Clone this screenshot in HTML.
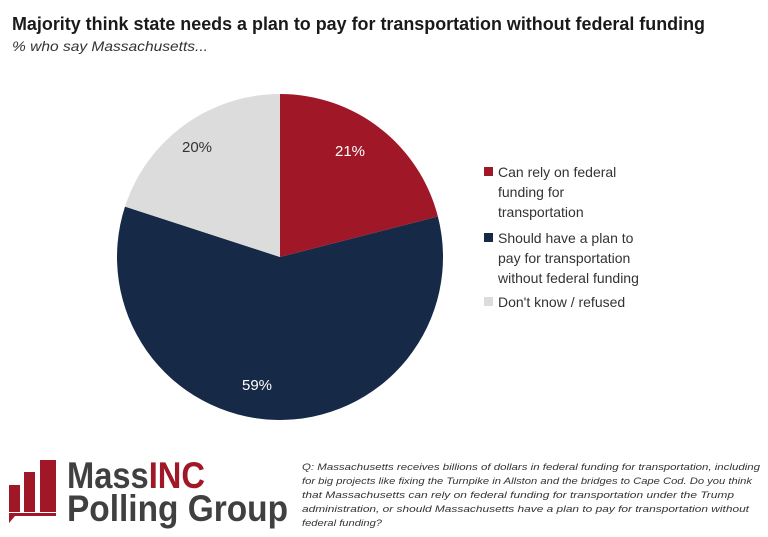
<!DOCTYPE html>
<html><head><style>body{margin:0;background:#fff}svg{display:block}</style></head><body>
<svg width="768" height="537" viewBox="0 0 768 537" xmlns="http://www.w3.org/2000/svg" font-family="Liberation Sans, sans-serif">
<rect width="768" height="537" fill="#fff"/>
<text x="12" y="30" font-size="18" font-weight="bold" fill="#1a1a1a" textLength="693" lengthAdjust="spacingAndGlyphs">Majority think state needs a plan to pay for transportation without federal funding</text>
<text x="12" y="51" font-size="14" font-style="italic" fill="#333" textLength="196" lengthAdjust="spacingAndGlyphs">% who say Massachusetts...</text>
<path d="M280,257 L280,94 A163,163 0 0 1 437.9,216.5 Z" fill="#a01828"/>
<path d="M280,257 L437.9,216.5 A163,163 0 1 1 125,206.6 Z" fill="#162947"/>
<path d="M280,257 L125,206.6 A163,163 0 0 1 280,94 Z" fill="#dcdcdc"/>
<text x="350" y="156" font-size="15" fill="#fff" text-anchor="middle">21%</text>
<text x="197" y="152" font-size="15" fill="#333" text-anchor="middle">20%</text>
<text x="257" y="390" font-size="15" fill="#fff" text-anchor="middle">59%</text>
<g font-size="14" fill="#333">
<rect x="484" y="167" width="9" height="9" fill="#a01828"/>
<text x="498" y="177">Can rely on federal</text><text x="498" y="197">funding for</text><text x="498" y="217">transportation</text>
<rect x="484" y="233" width="9" height="9" fill="#162947"/>
<text x="498" y="243">Should have a plan to</text><text x="498" y="263">pay for transportation</text><text x="498" y="283">without federal funding</text>
<rect x="484" y="297" width="9" height="9" fill="#dcdcdc"/>
<text x="498" y="307">Don't know / refused</text>
</g>
<g fill="#a01828">
<rect x="9" y="485" width="11" height="27"/>
<rect x="24" y="472" width="11" height="40"/>
<rect x="40" y="460" width="16" height="52"/>
<rect x="9" y="513" width="47" height="3"/>
<path d="M9,513 L9,523 L15,516 Z"/>
</g>
<text x="67" y="488" font-size="37" font-weight="bold" fill="#404040" textLength="138" lengthAdjust="spacingAndGlyphs">Mass<tspan fill="#a01828">INC</tspan></text>
<text x="67" y="521" font-size="37" font-weight="bold" fill="#404040" textLength="221" lengthAdjust="spacingAndGlyphs">Polling Group</text>
<g font-size="9.5" font-style="italic" fill="#333">
<text x="302" y="470" textLength="458" lengthAdjust="spacingAndGlyphs">Q: Massachusetts receives billions of dollars in federal funding for transportation, including</text>
<text x="302" y="484" textLength="450" lengthAdjust="spacingAndGlyphs">for big projects like fixing the Turnpike in Allston and the bridges to Cape Cod.  Do you think</text>
<text x="302" y="498" textLength="432" lengthAdjust="spacingAndGlyphs">that Massachusetts can rely on federal funding for transportation under the Trump</text>
<text x="302" y="512" textLength="447" lengthAdjust="spacingAndGlyphs">administration, or should Massachusetts have a plan to pay for transportation without</text>
<text x="302" y="526" textLength="80" lengthAdjust="spacingAndGlyphs">federal funding?</text>
</g>
</svg>
</body></html>
